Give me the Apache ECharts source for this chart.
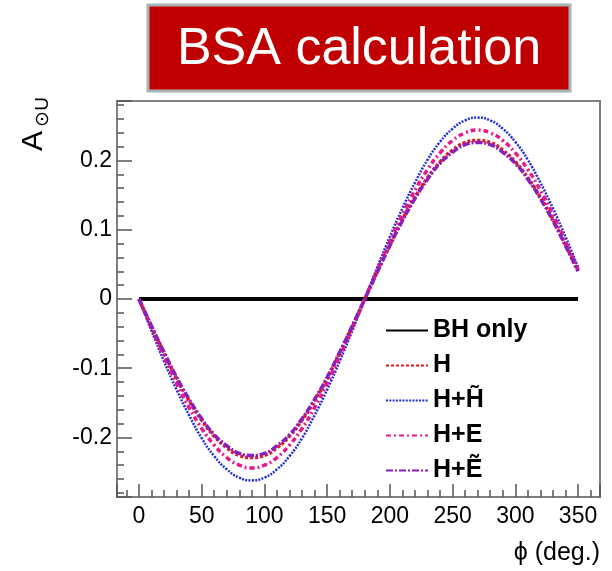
<!DOCTYPE html>
<html lang="en">
<head>
  <meta charset="UTF-8">
  <title>BSA calculation</title>
  <style>
    body { margin: 0; background: #fff; }
  </style>
</head>
<body>
  <div id="main" style="width:612px;height:571px"></div>

  <script src="https://cdn.jsdelivr.net/npm/echarts@6/dist/echarts.min.js"></script>

  <script>
    // phi in degrees
    var phi = [0, 10, 20, 30, 40, 50, 60, 70, 80, 90, 100, 110, 120, 130, 140, 150, 160, 170,
               180, 190, 200, 210, 220, 230, 240, 250, 260, 270, 280, 290, 300, 310, 320, 330, 340, 350]
    var bhOnly = [0, 0, 0, 0, 0, 0, 0, 0, 0, 0, 0, 0, 0, 0, 0, 0, 0, 0,
                  0, 0, 0, 0, 0, 0, 0, 0, 0, 0, 0, 0, 0, 0, 0, 0, 0, 0]
    var hOnly = [0, -0.040, -0.078, -0.115, -0.147, -0.175, -0.198, -0.215, -0.226, -0.229, -0.226, -0.215, -0.198, -0.175, -0.147, -0.115, -0.078, -0.040,
                 0, 0.040, 0.078, 0.115, 0.147, 0.175, 0.198, 0.215, 0.226, 0.229, 0.226, 0.215, 0.198, 0.175, 0.147, 0.115, 0.078, 0.041]
    var hHt = [0, -0.046, -0.090, -0.131, -0.168, -0.201, -0.227, -0.246, -0.258, -0.262, -0.258, -0.246, -0.227, -0.201, -0.168, -0.131, -0.090, -0.046,
               0, 0.046, 0.090, 0.131, 0.168, 0.201, 0.227, 0.246, 0.258, 0.262, 0.258, 0.246, 0.227, 0.201, 0.168, 0.131, 0.090, 0.046]
    var hE = [0, -0.042, -0.083, -0.122, -0.157, -0.187, -0.211, -0.229, -0.240, -0.244, -0.240, -0.229, -0.211, -0.187, -0.157, -0.122, -0.083, -0.042,
              0, 0.042, 0.083, 0.122, 0.157, 0.187, 0.211, 0.229, 0.240, 0.244, 0.240, 0.229, 0.211, 0.187, 0.157, 0.122, 0.083, 0.043]
    var hEt = [0, -0.039, -0.077, -0.113, -0.145, -0.173, -0.196, -0.212, -0.223, -0.226, -0.223, -0.212, -0.196, -0.173, -0.145, -0.113, -0.077, -0.039,
               0, 0.039, 0.077, 0.113, 0.145, 0.173, 0.196, 0.212, 0.223, 0.226, 0.223, 0.212, 0.196, 0.173, 0.145, 0.113, 0.077, 0.040]
    var seriesNames = ['BH only', 'H', 'H+H\u0303', 'H+E', 'H+\u1EBC']

    function pairs(ys) {
      return phi.map(function (p, i) { return [p, ys[i]] })
    }

    var font = '"Liberation Sans", Arial, sans-serif'
    var frameColor = '#7f7f7f'

    var myChart = echarts.init(document.getElementById('main'))

    var options = {
      animation: false,
      grid: {
        left: 117, right: 12, top: 101, bottom: 74,
        show: true, borderColor: frameColor, borderWidth: 2
      },
      xAxis: {
        type: 'value',
        min: -17.5, max: 367.5,
        splitNumber: 7,
        axisLine: { onZero: false, lineStyle: { color: frameColor, width: 2 } },
        axisTick: { inside: true, length: 13, lineStyle: { color: '#555', width: 1.5 } },
        minorTick: { show: true, splitNumber: 5, length: 7, lineStyle: { color: '#555', width: 1.5 } },
        splitLine: { show: false },
        axisLabel: {
          showMinLabel: false, showMaxLabel: false,
          margin: 8, color: '#000', fontSize: 23, fontFamily: font
        }
      },
      yAxis: {
        type: 'value',
        min: -0.286, max: 0.286,
        splitNumber: 6,
        axisLine: { onZero: false, lineStyle: { color: frameColor, width: 2 } },
        axisTick: { inside: true, length: 15, lineStyle: { color: '#555', width: 1.5 } },
        minorTick: { show: true, splitNumber: 5, length: 7, lineStyle: { color: '#555', width: 1.5 } },
        splitLine: { show: false },
        axisLabel: {
          showMinLabel: false, showMaxLabel: false,
          margin: 5, color: '#000', fontSize: 23, fontFamily: font
        }
      },
      legend: {
        orient: 'vertical',
        left: 380, top: 313,
        itemWidth: 42, itemHeight: 14, itemGap: 10,
        itemStyle: { opacity: 0 },
        textStyle: { fontSize: 25, fontWeight: 'bold', color: '#000', fontFamily: font },
        data: seriesNames
      },
      graphic: [
        {
          type: 'rect',
          shape: { x: 148, y: 5, width: 422, height: 86 },
          style: { fill: '#c00000', stroke: '#a8b3b3', lineWidth: 3 }
        },
        {
          type: 'text', x: 359, y: 50,
          style: { text: 'BSA calculation', fill: '#fff', font: '52px ' + font, align: 'center', verticalAlign: 'middle' }
        },
        {
          type: 'text', x: 34, y: 141, rotation: Math.PI / 2,
          style: { text: 'A', fill: '#000', font: '30px ' + font, align: 'center', verticalAlign: 'middle' }
        },
        {
          type: 'text', x: 43, y: 112, rotation: Math.PI / 2,
          style: { text: '\u2299U', fill: '#000', font: '19px ' + font, align: 'center', verticalAlign: 'middle' }
        },
        {
          type: 'text', x: 600, y: 553,
          style: { text: '\u03D5 (deg.)', fill: '#000', font: '25px ' + font, align: 'right', verticalAlign: 'middle' }
        }
      ],
      series: [
        {
          name: seriesNames[0], type: 'line', data: pairs(bhOnly), symbol: 'none',
          lineStyle: { color: '#000', width: 4, type: 'solid' }, itemStyle: { color: '#000' }, z: 2
        },
        {
          name: seriesNames[1], type: 'line', data: pairs(hOnly), symbol: 'none', smooth: true,
          lineStyle: { color: '#e31a1c', width: 3.5, type: [3, 2] }, itemStyle: { color: '#e31a1c' }, z: 3
        },
        {
          name: seriesNames[2], type: 'line', data: pairs(hHt), symbol: 'none', smooth: true,
          lineStyle: { color: '#1f2fd6', width: 2.5, type: [2, 1.3] }, itemStyle: { color: '#1f2fd6' }, z: 2
        },
        {
          name: seriesNames[3], type: 'line', data: pairs(hE), symbol: 'none', smooth: true,
          lineStyle: { color: '#e8178a', width: 3.5, type: [5, 3, 2, 3] }, itemStyle: { color: '#e8178a' }, z: 3
        },
        {
          name: seriesNames[4], type: 'line', data: pairs(hEt), symbol: 'none', smooth: true,
          lineStyle: { color: '#8a1fc0', width: 3.5, type: [7, 2, 2, 2] }, itemStyle: { color: '#8a1fc0' }, z: 4
        }
      ]
    }
    myChart.setOption(options)
  </script>
</body>
</html>
